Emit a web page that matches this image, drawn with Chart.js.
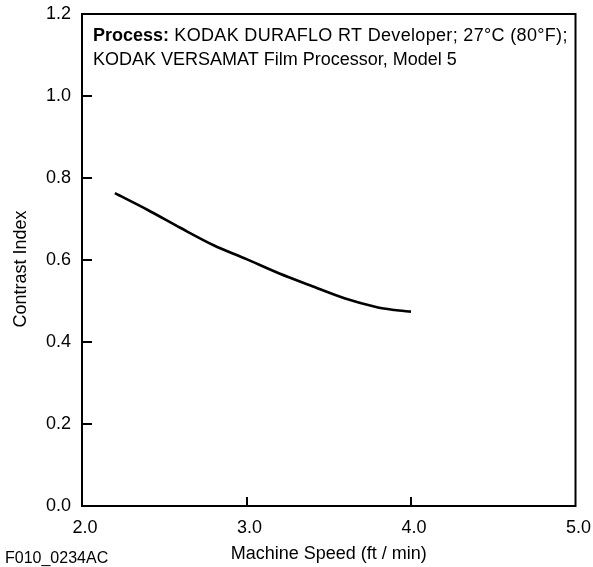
<!DOCTYPE html>
<html>
<head>
<meta charset="utf-8">
<script src="https://cdn.jsdelivr.net/npm/chart.js@4/dist/chart.umd.min.js"></script>
<style>
  html, body { margin: 0; padding: 0; background: #fff; }
  #wrap { width: 593px; height: 567px; position: relative; }
</style>
</head>
<body>
<div id="wrap"><canvas id="c" width="593" height="567"></canvas></div>
<script>
const machineSpeed = [2.2, 2.4, 2.6, 2.8, 3.0, 3.2, 3.4, 3.6, 3.8, 3.9, 4.0];
const contrastIndex = [0.763, 0.722, 0.678, 0.636, 0.602, 0.567, 0.536, 0.506, 0.484, 0.478, 0.474];
const xTicks = [2.0, 3.0, 4.0, 5.0];
const yTicks = [0.0, 0.2, 0.4, 0.6, 0.8, 1.0, 1.2];
const xTitle = 'Machine Speed (ft / min)';
const yTitle = 'Contrast Index';
const figId = 'F010_0234AC';
const noteBold = 'Process:';
const noteLine1 = ' KODAK DURAFLO RT Developer; 27°C (80°F);';
const noteLine2 = 'KODAK VERSAMAT Film Processor, Model 5';

const FONT = "'Liberation Sans', Arial, sans-serif";

const framePlugin = {
  id: 'frame',
  afterDraw(chart) {
    const ctx = chart.ctx;
    const a = chart.chartArea;
    const xs = chart.scales.x, ys = chart.scales.y;
    ctx.save();
    ctx.strokeStyle = '#000';
    ctx.lineWidth = 2;
    ctx.strokeRect(a.left, a.top, a.right - a.left, a.bottom - a.top);
    // inward ticks
    ctx.beginPath();
    yTicks.forEach(v => {
      if (v === 0 || v === 1.2) return;
      const py = Math.round(ys.getPixelForValue(v));
      ctx.moveTo(a.left, py);
      ctx.lineTo(a.left + 10, py);
    });
    xTicks.forEach(v => {
      if (v === 2.0 || v === 5.0) return;
      const px = Math.round(xs.getPixelForValue(v));
      ctx.moveTo(px, a.bottom);
      ctx.lineTo(px, a.bottom - 9);
    });
    ctx.stroke();
    // annotation
    ctx.fillStyle = '#000';
    ctx.textBaseline = 'alphabetic';
    ctx.textAlign = 'left';
    ctx.font = 'bold 18px ' + FONT;
    const x0 = a.left + 11;
    ctx.fillText(noteBold, x0, 41);
    const wb = ctx.measureText(noteBold).width;
    ctx.font = '18px ' + FONT;
    if ('letterSpacing' in ctx) ctx.letterSpacing = '0.33px';
    ctx.fillText(noteLine1, x0 + wb, 41);
    if ('letterSpacing' in ctx) ctx.letterSpacing = '0px';
    ctx.fillText(noteLine2, x0, 65);
    // figure id
    ctx.font = '16px ' + FONT;
    ctx.fillText(figId, 5, 562.5);
    // y title
    ctx.save();
    ctx.translate(21.5, 269);
    ctx.rotate(-Math.PI / 2);
    ctx.textAlign = 'center';
    ctx.textBaseline = 'middle';
    ctx.font = '18px ' + FONT;
    ctx.fillText(yTitle, 0, 0);
    ctx.restore();
    ctx.restore();
  }
};

new Chart(document.getElementById('c'), {
  type: 'line',
  data: {
    datasets: [{
      data: machineSpeed.map((x, i) => ({ x: x, y: contrastIndex[i] })),
      borderColor: '#000',
      borderWidth: 2.6,
      pointRadius: 0,
      tension: 0.3,
      fill: false
    }]
  },
  options: {
    responsive: false,
    animation: false,
    devicePixelRatio: 1,
    layout: { padding: { top: 14, right: 17.5, left: 0, bottom: 0 } },
    plugins: { legend: { display: false }, tooltip: { enabled: false } },
    scales: {
      x: {
        type: 'linear',
        min: 2.0, max: 5.0,
        afterBuildTicks(s) { s.ticks = xTicks.map(v => ({ value: v })); },
        afterFit(s) { s.height = 61; s.paddingLeft = 0; s.paddingRight = 0; },
        grid: { display: false, drawTicks: false },
        border: { display: false },
        ticks: {
          padding: 11,
          labelOffset: 3,
          color: '#000',
          font: { family: FONT, size: 18 },
          callback: v => Number(v).toFixed(1),
          maxRotation: 0
        },
        title: {
          display: true, text: xTitle, color: '#000',
          font: { family: FONT, size: 18 },
          padding: { top: 0, bottom: 2.5 }
        }
      },
      y: {
        type: 'linear',
        min: 0, max: 1.2,
        afterBuildTicks(s) { s.ticks = yTicks.map(v => ({ value: v })); },
        afterFit(s) { s.width = 82; s.paddingTop = 0; s.paddingBottom = 0; },
        grid: { display: false, drawTicks: false },
        border: { display: false },
        ticks: {
          padding: 11,
          color: '#000',
          font: { family: FONT, size: 18 },
          callback: v => Number(v).toFixed(1)
        }
      }
    }
  },
  plugins: [framePlugin]
});
</script>
</body>
</html>
